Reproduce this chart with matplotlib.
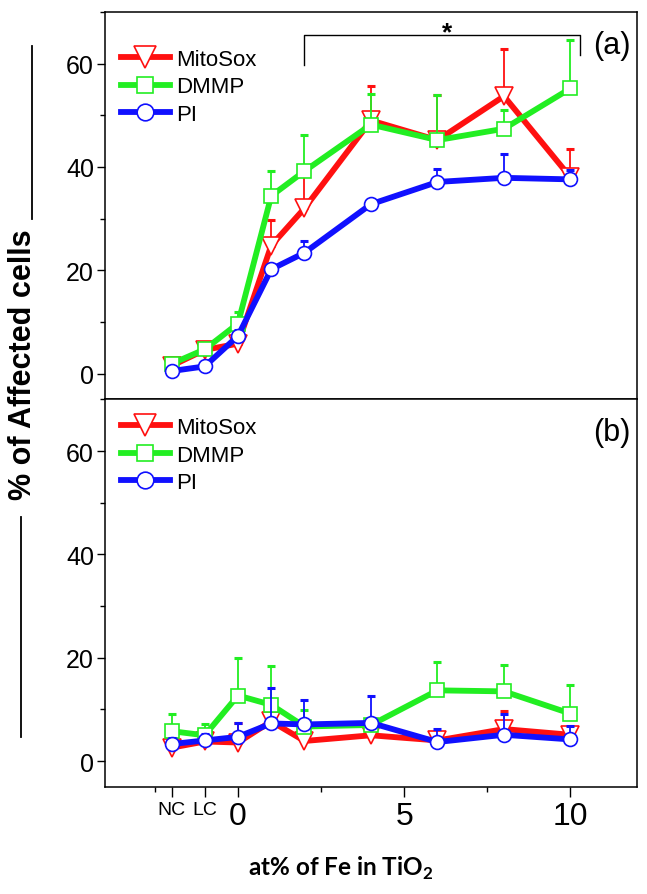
import matplotlib
matplotlib.use("Agg")
import matplotlib.pyplot as plt
from matplotlib.lines import Line2D
from matplotlib.ticker import FixedLocator, MultipleLocator

# x positions: NC, LC, then at% of Fe
x_pos = [-2, -1, 0, 1, 2, 4, 6, 8, 10]
x_major = [-2, -1, 0, 5, 10]
x_major_labels = ['NC', 'LC', '0', '5', '10']
x_minor = [-2.5, 2.5, 7.5]

series_names = ['MitoSox', 'DMMP', 'PI']

# panel (a)
mitosox_a = [1.5, 4.6, 5.8, 24.8, 32.0, 49.0, 45.2, 53.7, 38.0]
mitosox_a_err = [1.3, 0.7, 0.7, 5.0, 7.8, 6.7, 8.7, 9.1, 5.4]
dmmp_a = [1.9, 4.7, 9.7, 34.4, 39.2, 48.2, 45.2, 47.4, 55.2]
dmmp_a_err = [1.0, 0.8, 2.2, 4.8, 6.9, 6.0, 8.7, 3.6, 9.4]
pi_a = [0.5, 1.4, 7.3, 20.2, 23.4, 32.8, 37.1, 37.9, 37.6]
pi_a_err = [0.7, 0.5, 1.1, 0.5, 2.2, 0.5, 2.6, 4.7, 1.8]

# panel (b)
mitosox_b = [2.6, 3.8, 3.6, 7.7, 3.9, 5.0, 4.0, 6.2, 5.1]
mitosox_b_err = [1.2, 1.2, 3.8, 4.3, 0.6, 3.2, 0.6, 3.5, 1.5]
dmmp_b = [5.8, 5.0, 12.7, 10.9, 6.7, 7.0, 13.7, 13.5, 9.2]
dmmp_b_err = [3.3, 2.2, 7.2, 7.6, 3.2, 0.5, 5.4, 5.1, 5.6]
pi_b = [3.3, 4.0, 4.7, 7.3, 7.1, 7.4, 3.7, 5.1, 4.2]
pi_b_err = [1.1, 1.3, 2.7, 6.8, 4.8, 5.2, 2.5, 4.0, 2.6]

# significance bracket in panel (a)
bracket_x = [2, 2, 10.28, 10.28]
bracket_y = [59.8, 65.6, 65.6, 61.7]

colors = ['#ff1010', '#22ee22', '#1010ff']
markers = ['v', 's', 'o']
marker_sizes = [13, 9.5, 10]

plt.rcParams['font.family'] = ['Liberation Sans', 'DejaVu Sans']
plt.rcParams['mathtext.fontset'] = 'custom'
plt.rcParams['mathtext.bf'] = 'Lato:bold'


def draw_panel(ax, values, errors, legend_y, tag):
    handles = []
    for vals, errs, col, mk, ms, name in zip(values, errors, colors, markers,
                                              marker_sizes, series_names):
        ax.errorbar(x_pos, vals, yerr=[[0] * len(errs), errs], fmt='none',
                    ecolor=col, elinewidth=1.3, capsize=3, capthick=2.2)
        h, = ax.plot(x_pos, vals, color=col, lw=4.2, marker=mk, ms=ms,
                     mfc='white', mec=col, mew=1.2, label=name)
        handles.append(h)
    ax.legend(handles=handles, loc='upper left', bbox_to_anchor=(0.03, legend_y),
              frameon=False, fontsize=16, handlelength=2.2, handletextpad=0.3,
              labelspacing=0.3, borderpad=0, borderaxespad=0, markerscale=1.2)
    ax.text(0.952, 0.915, tag, transform=ax.transAxes, fontsize=22,
            ha='center', va='center')
    ax.set_xlim(-4, 12)
    ax.set_ylim(-5, 70)
    ax.set_yticks([0, 20, 40, 60])
    ax.yaxis.set_minor_locator(MultipleLocator(10))
    ax.xaxis.set_major_locator(FixedLocator(x_major))
    ax.xaxis.set_minor_locator(FixedLocator(x_minor))
    ax.tick_params(axis='both', which='major', direction='out', length=5.5,
                   width=1, labelsize=18, pad=2.5)
    ax.tick_params(axis='both', which='minor', direction='out', length=3.5, width=1)
    ax.tick_params(top=False, right=False, which='both')
    for sp in ax.spines.values():
        sp.set_linewidth(1.1)


fig, (ax_a, ax_b) = plt.subplots(2, 1, figsize=(6.47, 8.95), dpi=100, sharex=True)
fig.subplots_adjust(left=0.1623, right=0.9845, top=0.9855, bottom=0.1196, hspace=0)

draw_panel(ax_a, [mitosox_a, dmmp_a, pi_a], [mitosox_a_err, dmmp_a_err, pi_a_err],
           0.905, '(a)')
draw_panel(ax_b, [mitosox_b, dmmp_b, pi_b], [mitosox_b_err, dmmp_b_err, pi_b_err],
           0.955, '(b)')

ax_a.plot(bracket_x, bracket_y, color='k', lw=1)
ax_a.text(6.3, 66.0, '*', fontsize=19, fontweight='bold', ha='center', va='center')
ax_a.tick_params(labelbottom=False)

ax_b.set_xticklabels(x_major_labels)
for lbl in ax_b.get_xticklabels():
    lbl.set_fontsize(14 if lbl.get_text() in ('NC', 'LC') else 23)
ax_b.tick_params(axis='x', which='major', length=7, pad=3)
ax_a.tick_params(axis='x', which='major', length=7)

fig.text(341 / 647, 1 - 876 / 895, r'at% of Fe in TiO$_\mathbf{2}$',
         family=['Lato', 'DejaVu Sans'], fontweight='bold', fontsize=17.5,
         ha='center', va='baseline')

fig.text(23 / 647, 1 - 365 / 895, '% of Affected cells', rotation=90,
         fontweight='bold', fontsize=22, ha='center', va='center')
fig.add_artist(Line2D([32 / 647, 32 / 647], [1 - 47 / 895, 1 - 220 / 895],
                      transform=fig.transFigure, color='k', lw=1.3))
fig.add_artist(Line2D([21 / 647, 21 / 647], [1 - 518 / 895, 1 - 738 / 895],
                      transform=fig.transFigure, color='k', lw=1.3))

fig.savefig('out.png', dpi=100)
